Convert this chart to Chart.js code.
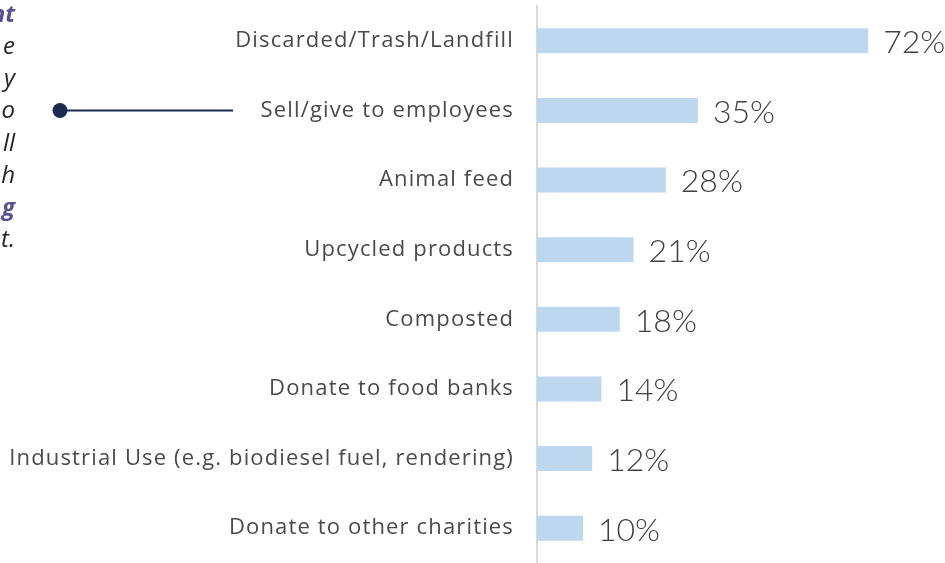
<!DOCTYPE html>
<html>
<head>
<meta charset="utf-8">
<script src="https://cdn.jsdelivr.net/npm/chart.js@4"></script>
<style>
  html, body { margin: 0; padding: 0; background: #fff; }
  #wrap { position: relative; width: 945px; height: 563px; }
</style>
</head>
<body>
<div id="wrap"><canvas id="disposalChart" width="945" height="563"></canvas></div>
<script>
const categories = [
  "Discarded/Trash/Landfill",
  "Sell/give to employees",
  "Animal feed",
  "Upcycled products",
  "Composted",
  "Donate to food banks",
  "Industrial Use (e.g. biodiesel fuel, rendering)",
  "Donate to other charities"
];
const shares = [72, 35, 28, 21, 18, 14, 12, 10];

// tail ends of the side note text, right-aligned at the page edge
const noteLines = ["nt", "e", "y", "o", "ll", "h", "g", "t."];
const noteBold = [true, false, false, false, false, false, true, false];

const FONT = "'Open Sans', Lato, sans-serif";

// wider tracking for the category labels only
const labelTracking = {
  id: "labelTracking",
  beforeDraw(chart) { chart.ctx.letterSpacing = "1.15px"; },
  beforeDatasetsDraw(chart) { chart.ctx.letterSpacing = "0px"; }
};

// value labels next to each bar
const valueLabels = {
  id: "valueLabels",
  afterDatasetsDraw(chart) {
    const ctx = chart.ctx;
    const meta = chart.getDatasetMeta(0);
    ctx.save();
    ctx.letterSpacing = "0px";
    ctx.font = "300 32px Lato, sans-serif";
    ctx.fillStyle = "#404040";
    ctx.textAlign = "left";
    ctx.textBaseline = "middle";
    meta.data.forEach((bar, i) => {
      ctx.fillText(shares[i] + "%", bar.x + 15, bar.y + 2);
    });
    ctx.restore();
  }
};

// side note fragments plus the connector pointing at the second row
const sideNote = {
  id: "sideNote",
  afterDraw(chart) {
    const ctx = chart.ctx;
    ctx.save();
    ctx.letterSpacing = "0px";
    ctx.textAlign = "right";
    ctx.textBaseline = "middle";
    noteLines.forEach((t, i) => {
      ctx.font = (noteBold[i] ? "italic bold " : "italic ") + "24px " + FONT;
      ctx.fillStyle = noteBold[i] ? "#56528f" : "#262626";
      ctx.fillText(t, 15, 15 + i * 32.2);
    });
    const y = chart.scales.y.getPixelForValue(1);
    ctx.strokeStyle = "#1b2a4e";
    ctx.lineWidth = 2;
    ctx.beginPath();
    ctx.moveTo(60, y);
    ctx.lineTo(233, y);
    ctx.stroke();
    ctx.fillStyle = "#1b2a4e";
    ctx.beginPath();
    ctx.arc(60, y, 7.5, 0, Math.PI * 2);
    ctx.fill();
    ctx.restore();
  }
};

new Chart(document.getElementById("disposalChart"), {
  type: "bar",
  data: {
    labels: categories,
    datasets: [{
      data: shares,
      backgroundColor: "#bdd7ee",
      barPercentage: 0.36,
      categoryPercentage: 1
    }]
  },
  options: {
    indexAxis: "y",
    responsive: false,
    animation: false,
    layout: { padding: { left: 0, right: 40, top: 6, bottom: 0 } },
    plugins: {
      legend: { display: false },
      tooltip: { enabled: false }
    },
    scales: {
      x: {
        min: 0,
        max: 80,
        display: false
      },
      y: {
        afterFit(scale) {
          scale.width = 537;
          scale.paddingTop = 0;
          scale.paddingBottom = 0;
        },
        grid: { display: false, drawTicks: false },
        border: { color: "#d9d9d9", width: 2 },
        ticks: {
          color: "#4a4a4a",
          padding: 23,
          font: { family: FONT, size: 22 }
        }
      }
    }
  },
  plugins: [labelTracking, valueLabels, sideNote]
});
</script>
</body>
</html>
